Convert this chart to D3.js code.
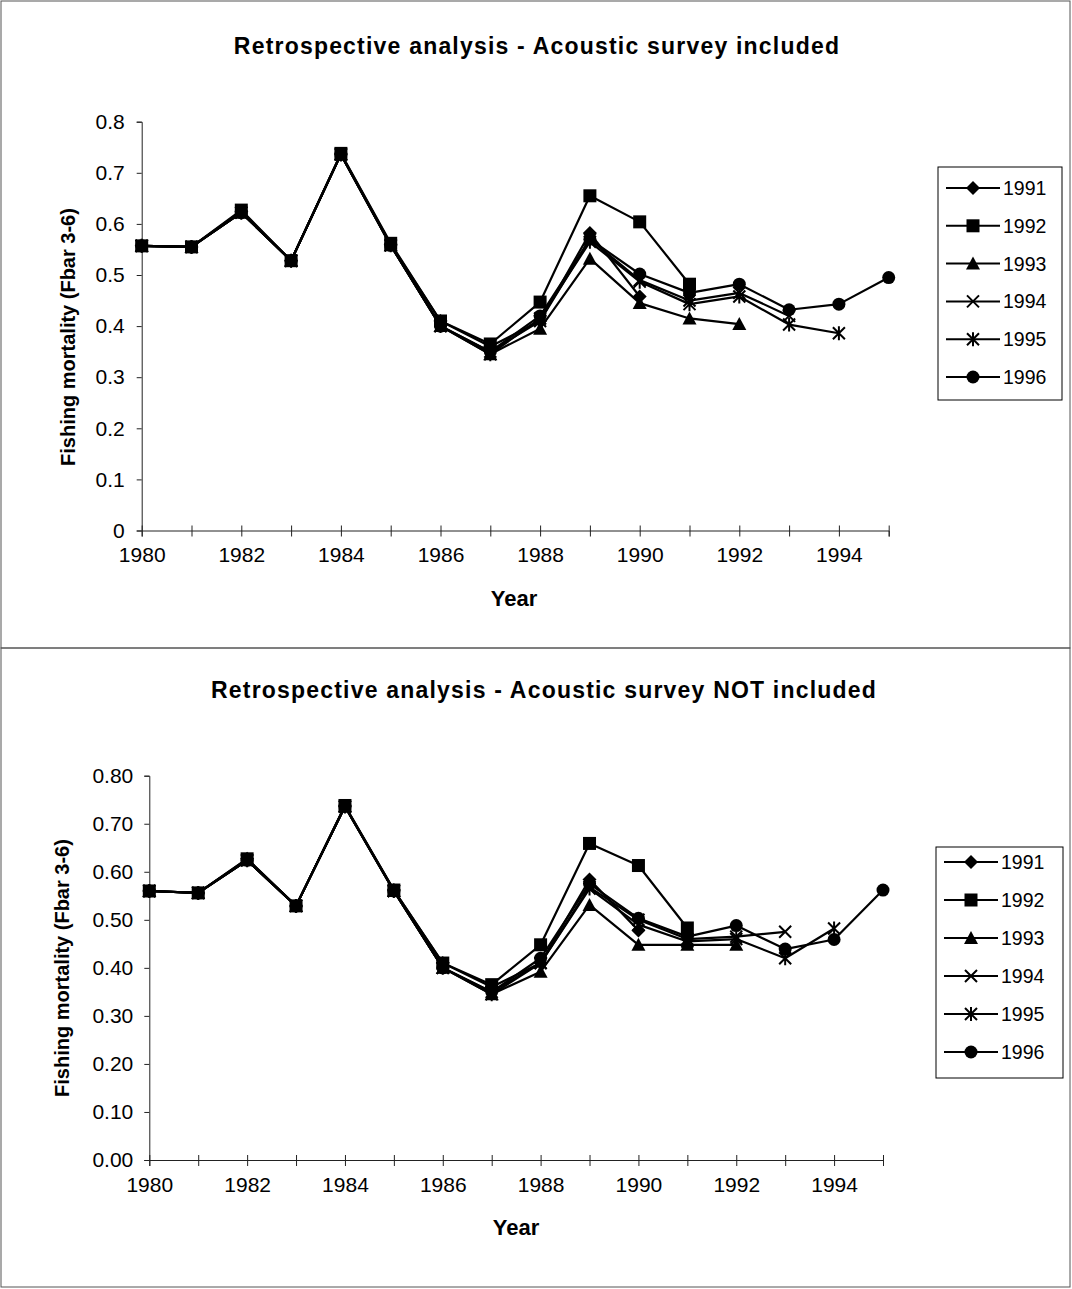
<!DOCTYPE html>
<html>
<head>
<meta charset="utf-8">
<script src="https://cdn.jsdelivr.net/npm/d3@7"></script>
<style>
  body { margin: 0; background: #fff; }
  svg { display: block; font-family: "Liberation Sans", Arial, sans-serif; }
</style>
</head>
<body>
<svg id="chart" width="1072" height="1289"></svg>
<script>
// years on the x axis
const years = [1980, 1981, 1982, 1983, 1984, 1985, 1986, 1987, 1988, 1989, 1990, 1991, 1992, 1993, 1994, 1995];
const seriesNames = ["1991", "1992", "1993", "1994", "1995", "1996"];
const markerTypes = ["diamond", "square", "triangle", "cross", "asterisk", "circle"];

// Acoustic survey included
const inc1991 = [0.557, 0.555, 0.625, 0.528, 0.737, 0.560, 0.410, 0.360, 0.410, 0.582, 0.458];
const inc1992 = [0.557, 0.555, 0.627, 0.528, 0.738, 0.562, 0.410, 0.365, 0.447, 0.655, 0.604, 0.482];
const inc1993 = [0.557, 0.555, 0.622, 0.528, 0.736, 0.558, 0.400, 0.345, 0.395, 0.532, 0.445, 0.415, 0.404];
const inc1994 = [0.557, 0.555, 0.622, 0.528, 0.736, 0.558, 0.400, 0.350, 0.410, 0.570, 0.490, 0.450, 0.465, 0.420];
const inc1995 = [0.557, 0.555, 0.622, 0.528, 0.736, 0.558, 0.400, 0.345, 0.415, 0.565, 0.487, 0.443, 0.458, 0.403, 0.386];
const inc1996 = [0.557, 0.555, 0.622, 0.528, 0.736, 0.558, 0.400, 0.350, 0.420, 0.570, 0.502, 0.465, 0.482, 0.432, 0.443, 0.495];

// Acoustic survey NOT included
const not1991 = [0.560, 0.556, 0.627, 0.529, 0.737, 0.562, 0.410, 0.360, 0.410, 0.584, 0.478];
const not1992 = [0.560, 0.556, 0.627, 0.529, 0.738, 0.562, 0.410, 0.365, 0.448, 0.659, 0.613, 0.483];
const not1993 = [0.560, 0.556, 0.624, 0.529, 0.736, 0.560, 0.400, 0.345, 0.392, 0.531, 0.448, 0.448, 0.448];
const not1994 = [0.560, 0.556, 0.624, 0.529, 0.736, 0.560, 0.400, 0.350, 0.410, 0.568, 0.500, 0.460, 0.465, 0.475];
const not1995 = [0.560, 0.556, 0.624, 0.529, 0.736, 0.560, 0.400, 0.345, 0.410, 0.565, 0.490, 0.455, 0.460, 0.420, 0.482];
const not1996 = [0.560, 0.556, 0.624, 0.529, 0.736, 0.560, 0.400, 0.350, 0.420, 0.575, 0.503, 0.465, 0.488, 0.439, 0.459, 0.562];

const svg = d3.select('#chart');

// panel borders
svg.append('rect').attr('x', 1).attr('y', 1).attr('width', 1069).attr('height', 647)
  .attr('fill', 'none').attr('stroke', '#555').attr('stroke-width', 1);
svg.append('rect').attr('x', 1).attr('y', 648).attr('width', 1069).attr('height', 639)
  .attr('fill', 'none').attr('stroke', '#555').attr('stroke-width', 1);

function marker(g, type, x, y) {
  if (type === 'square') {
    g.append('rect').attr('x', x - 6.5).attr('y', y - 6.5).attr('width', 13).attr('height', 13).attr('fill', '#000');
  } else if (type === 'circle') {
    g.append('circle').attr('cx', x).attr('cy', y).attr('r', 6.5).attr('fill', '#000');
  } else if (type === 'diamond') {
    g.append('path').attr('d', `M${x},${y - 7}L${x + 7},${y}L${x},${y + 7}L${x - 7},${y}Z`).attr('fill', '#000');
  } else if (type === 'triangle') {
    g.append('path').attr('d', `M${x},${y - 7}L${x + 7},${y + 6}L${x - 7},${y + 6}Z`).attr('fill', '#000');
  } else if (type === 'cross') {
    g.append('path').attr('d', `M${x - 6},${y - 6}L${x + 6},${y + 6}M${x - 6},${y + 6}L${x + 6},${y - 6}`)
      .attr('stroke', '#000').attr('stroke-width', 2);
  } else if (type === 'asterisk') {
    g.append('path').attr('d', `M${x - 6},${y - 6}L${x + 6},${y + 6}M${x - 6},${y + 6}L${x + 6},${y - 6}M${x},${y - 7}L${x},${y + 7}`)
      .attr('stroke', '#000').attr('stroke-width', 2);
  }
}

function drawPanel(opt) {
  const x = d3.scaleLinear().domain([1980, 1995]).range([opt.left, opt.right]);
  const y = d3.scaleLinear().domain([0, 0.8]).range([opt.bottom, opt.top]);
  const g = svg.append('g');

  // title
  g.append('text').attr('x', opt.titleX).attr('y', opt.titleY).attr('text-anchor', 'middle')
    .style('font-size', '23px').style('font-weight', 'bold').style('letter-spacing', '1.2px')
    .text(opt.title);

  // y axis
  const yAxis = g.append('g').attr('transform', `translate(${opt.left},0)`)
    .call(d3.axisLeft(y).tickValues(d3.range(0, 0.81, 0.1)).tickSize(5).tickPadding(opt.yPad).tickFormat(opt.yFormat));
  yAxis.select('.domain').attr('stroke', '#222');
  yAxis.selectAll('.tick line').attr('stroke', '#222');
  yAxis.selectAll('.tick text').style('font-size', '21px').attr('fill', '#000');

  // x axis
  const xAxis = g.append('g').attr('transform', `translate(0,${opt.bottom})`)
    .call(d3.axisBottom(x).tickValues(years).tickSize(6).tickPadding(11)
      .tickFormat(d => (d % 2 === 0 && d < 1995) ? d : ''));
  xAxis.select('.domain').attr('stroke', '#222');
  xAxis.selectAll('.tick line').attr('stroke', '#222').attr('y1', -5).attr('y2', 6);
  xAxis.selectAll('.tick text').style('font-size', '21px').attr('fill', '#000');

  // axis titles
  g.append('text').attr('transform', `translate(${opt.yLabelX},${opt.yLabelY}) rotate(-90)`)
    .attr('text-anchor', 'middle').style('font-size', '20px').style('font-weight', 'bold')
    .text('Fishing mortality (Fbar 3-6)');
  g.append('text').attr('x', opt.yearX).attr('y', opt.yearY).attr('text-anchor', 'middle')
    .style('font-size', '22px').style('font-weight', 'bold').text('Year');

  // series
  const line = d3.line().x((d, i) => x(years[i])).y(d => y(d));
  opt.data.forEach((vals, k) => {
    g.append('path').datum(vals).attr('d', line)
      .attr('fill', 'none').attr('stroke', '#000').attr('stroke-width', 2.2).attr('stroke-linejoin', 'round');
    vals.forEach((v, i) => marker(g, markerTypes[k], x(years[i]), y(v)));
  });

  // legend
  const lg = g.append('g');
  lg.append('rect').attr('x', opt.lgX).attr('y', opt.lgY).attr('width', opt.lgW).attr('height', opt.lgH)
    .attr('fill', '#fff').attr('stroke', '#000').attr('stroke-width', 1);
  seriesNames.forEach((name, k) => {
    const cy = opt.lgY + opt.lgFirst + k * opt.lgStep;
    lg.append('line').attr('x1', opt.lgX + 8).attr('x2', opt.lgX + 62).attr('y1', cy).attr('y2', cy)
      .attr('stroke', '#000').attr('stroke-width', 2);
    marker(lg, markerTypes[k], opt.lgX + 35, cy);
    lg.append('text').attr('x', opt.lgX + 65).attr('y', cy + 7).style('font-size', '19.5px').text(name);
  });
}

drawPanel({
  title: 'Retrospective analysis - Acoustic survey included',
  titleX: 537, titleY: 54,
  left: 141.7, right: 888.7, top: 121.7, bottom: 530.5,
  yPad: 12, yFormat: d => d < 0.05 ? '0' : d3.format('.1f')(d),
  yLabelX: 75, yLabelY: 337, yearX: 514, yearY: 606,
  data: [inc1991, inc1992, inc1993, inc1994, inc1995, inc1996],
  lgX: 938, lgY: 167, lgW: 124, lgH: 233, lgFirst: 21, lgStep: 37.8
});

drawPanel({
  title: 'Retrospective analysis - Acoustic survey NOT included',
  titleX: 544, titleY: 698,
  left: 149.3, right: 883, top: 775.7, bottom: 1160,
  yPad: 11, yFormat: d3.format('.2f'),
  yLabelX: 69, yLabelY: 968, yearX: 516, yearY: 1235,
  data: [not1991, not1992, not1993, not1994, not1995, not1996],
  lgX: 936, lgY: 847, lgW: 127, lgH: 231, lgFirst: 15, lgStep: 38
});
</script>
</body>
</html>
